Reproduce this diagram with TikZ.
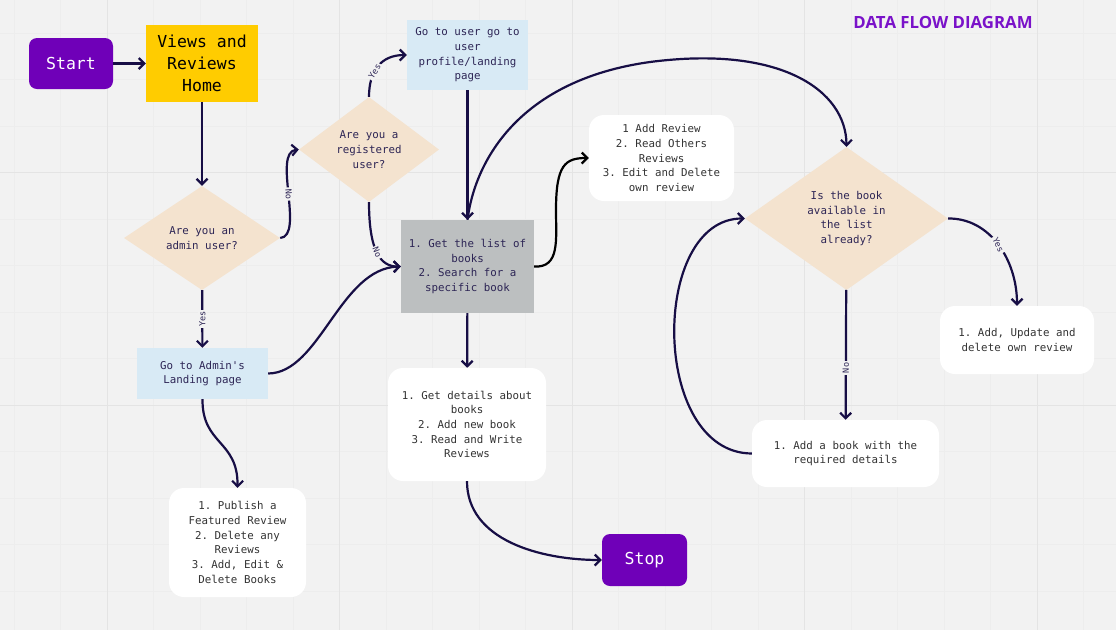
\documentclass[tikz,border=0pt]{standalone}
\usepackage{fontspec}
\usetikzlibrary{shapes.geometric,arrows.meta}
\newfontfamily\plexmono{DejaVu Sans Mono}
\newfontfamily\titlefont{Open Sans}
\frenchspacing
\definecolor{bg}{HTML}{F2F2F2}
\definecolor{gridminor}{HTML}{EDEDED}
\definecolor{gridmajor}{HTML}{E4E4E4}
\definecolor{startpurple}{HTML}{6F00B8}
\definecolor{homeyellow}{HTML}{FFCC00}
\definecolor{askbeige}{HTML}{F4E3CF}
\definecolor{pageblue}{HTML}{D8EAF5}
\definecolor{listgrey}{HTML}{BCBFC0}
\definecolor{linknavy}{HTML}{170E45}
\definecolor{textnavy}{HTML}{2D2555}
\definecolor{textgrey}{HTML}{333333}
\definecolor{titlepurple}{HTML}{7A12C9}
\tikzset{
  base/.style={inner sep=0pt, align=center, font=\plexmono\frenchspacing\fontsize{10.8}{14.7}\selectfont},
  terminal/.style={base, fill=startpurple, text=white, rounded corners=8pt,
    font=\plexmono\fontsize{16.5}{22}\selectfont},
  homebox/.style={base, fill=homeyellow, text=black, font=\plexmono\fontsize{16.5}{22}\selectfont},
  ask/.style={base, diamond, fill=askbeige, text=textnavy},
  pagebox/.style={base, fill=pageblue, text=textnavy},
  listbox/.style={base, fill=listgrey, text=textnavy},
  notebox/.style={base, fill=white, text=textgrey, rounded corners=15pt},
  link/.style={draw=linknavy, line width=2.2pt, -{Straight Barb[length=5.5pt,width=11pt]}},
  answer/.style={fill=bg, text=textnavy, inner sep=1.5pt, font=\plexmono\fontsize{8.5}{9}\selectfont}
}
\begin{document}
\begin{tikzpicture}[x=1pt,y=-1pt]
\useasboundingbox (0,0) rectangle (1116,630);
\fill[bg] (0,0) rectangle (1116,630);
% grid
\foreach \xx in {0,...,23} {\draw[gridminor, line width=0.8pt] (14+46.5*\xx,0) -- (14+46.5*\xx,630);}
\foreach \yy in {0,...,13} {\draw[gridminor, line width=0.8pt] (0,33+46.5*\yy) -- (1116,33+46.5*\yy);}
\foreach \xx in {107,339.5,572,804.5,1037} {\draw[gridmajor, line width=1pt] (\xx,0) -- (\xx,630);}
\foreach \yy in {172.5,405} {\draw[gridmajor, line width=1pt] (0,\yy) -- (1116,\yy);}

\node[text=titlepurple, font=\titlefont\bfseries\fontsize{16.8}{18}\selectfont] (title) at (943,22) {DATA FLOW DIAGRAM};

\node[terminal, minimum width=84pt, minimum height=51pt] (start) at (71,63.5) {Start};
\node[homebox, minimum width=112pt, minimum height=77pt] (home) at (202,63.5) {Views and\\Reviews\\Home};
\node[ask, minimum width=156pt, minimum height=104pt] (admin) at (202,238) {Are you an\\admin user?};
\node[ask, minimum width=140pt, minimum height=105pt] (reg) at (369,149.5) {Are you a\\registered\\user?};
\node[pagebox, minimum width=121pt, minimum height=70pt] (userpage) at (467.5,55) {Go to user go to\\user\\profile/landing\\page};
\node[listbox, minimum width=133pt, minimum height=93pt] (booklist) at (467.5,266.5) {1. Get the list of\\books\\2. Search for a\\specific book};
\node[notebox, minimum width=145pt, minimum height=86pt] (review) at (661.5,158) {1 Add Review\\2. Read Others\\Reviews\\3. Edit and Delete\\own review};
\node[pagebox, minimum width=131pt, minimum height=51pt] (adminpage) at (202.5,373.5) {Go to Admin's\\Landing page};
\node[notebox, minimum width=137pt, minimum height=109pt] (publish) at (237.5,542.5) {1. Publish a\\Featured Review\\2. Delete any\\Reviews\\3. Add, Edit \&\\Delete Books};
\node[notebox, minimum width=158pt, minimum height=113pt] (details) at (467,424.5) {1. Get details about\\books\\2. Add new book\\3. Read and Write\\Reviews};
\node[terminal, minimum width=85pt, minimum height=52pt] (stop) at (644.5,560) {Stop};
\node[ask, minimum width=203pt, minimum height=143pt] (isbook) at (846.5,218.5) {Is the book\\available in\\the list\\already?};
\node[notebox, minimum width=187pt, minimum height=67pt] (addbook) at (845.5,453.5) {1. Add a book with the\\required details};
\node[notebox, minimum width=154pt, minimum height=68pt] (update) at (1017,340) {1. Add, Update and\\delete own review};

% connectors
\draw[link] (start) -- (home);
\draw[link] (home) -- (admin);
\draw[link] (admin.east) .. controls (305,236) and (272,152) .. node[answer, pos=0.5, rotate=-85] {No} (reg.west);
\draw[link] (reg.north) .. controls (369,72) and (380,55) .. node[answer, pos=0.4, rotate=58] {Yes} (userpage.west);
\draw[link] (reg.south) .. controls (369,250) and (380,267) .. node[answer, pos=0.5, rotate=-68] {No} (booklist.west);
\draw[link] (userpage) -- (booklist);
\draw[link] (admin) -- node[answer, pos=0.5, rotate=90] {Yes} (adminpage);
\draw[link] (adminpage.east) .. controls (320,373) and (340,268) .. (booklist.west);
\draw[link] (adminpage.south) .. controls (202,445) and (238,440) .. (publish.north);
\draw[link] (booklist.north) .. controls (475,160) and (520,80) .. (650,62) .. controls (780,45) and (846,90) .. (isbook.north);
\draw[link, draw=black] (booklist.east) .. controls (560,268) and (556,240) .. (556,210) .. controls (556,165) and (565,158) .. (review.west);
\draw[link] (booklist) -- (details);
\draw[link] (details.south) .. controls (467,540) and (540,560) .. (stop.west);
\draw[link] (isbook) -- node[answer, pos=0.6, rotate=90] {No} (addbook);
\draw[link] (addbook.west) .. controls (650,453) and (650,218) .. (isbook.west);
\draw[link] (isbook.east) .. controls (990,218) and (1017,260) .. node[answer, pos=0.5, rotate=-65] {Yes} (update.north);
\end{tikzpicture}
\end{document}
